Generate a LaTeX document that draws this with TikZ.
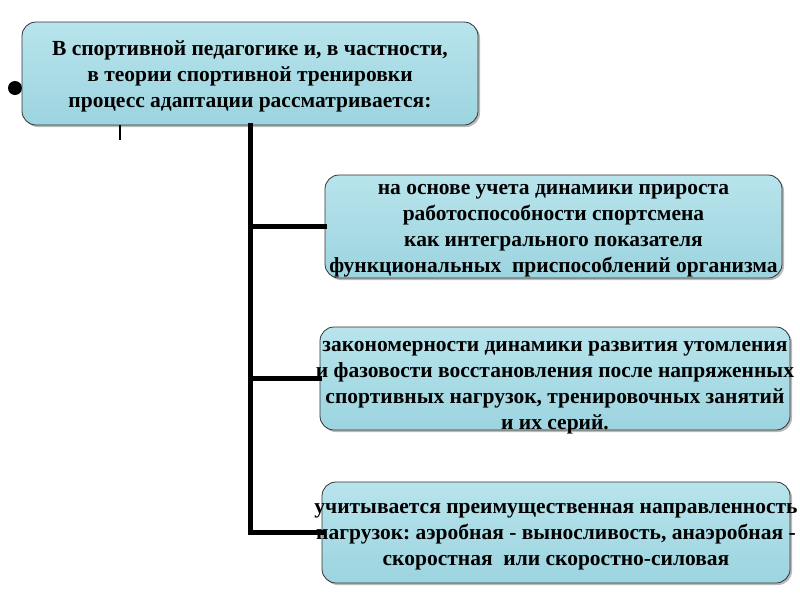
\documentclass[tikz,border=0pt]{standalone}
\usepackage{fontspec}
\setmainfont{LiberationSerif}[Extension=.ttf, UprightFont=*-Regular, BoldFont=*-Bold]
\usetikzlibrary{shadows}
\definecolor{boxtop}{HTML}{B8E4EC}
\definecolor{boxbot}{HTML}{9CD4DF}
\tikzset{
  panel/.style={draw=black!80, line width=0.8pt, rounded corners=14pt,
    top color=boxtop, bottom color=boxbot, inner sep=0pt,
    drop shadow={shadow xshift=2pt, shadow yshift=-2pt, fill=black!45, opacity=0.6}},
  paneltext/.style={align=center, inner sep=0pt,
    font=\rmfamily\bfseries\fontsize{21.5}{26}\selectfont},
  link/.style={line width=5pt, line cap=rect},
  thinlink/.style={line width=2pt}
}
\begin{document}
\begin{tikzpicture}[x=1pt,y=-1pt]
\useasboundingbox (0,0) rectangle (800,600);
\fill[white] (0,0) rectangle (800,600);
% bullet
\node[circle, fill=black, minimum size=14pt, inner sep=0pt] (bullet) at (15,88) {};
% boxes
\node[panel, minimum width=456pt, minimum height=103pt] (top) at (250,73.5) {};
\node[panel, minimum width=457pt, minimum height=103pt] (b1) at (553.5,226.5) {};
\node[panel, minimum width=470pt, minimum height=103pt] (b2) at (555,378.5) {};
\node[panel, minimum width=468pt, minimum height=101pt] (b3) at (556,532.5) {};
% texts
\node[paneltext] (ttop) at ([yshift=-3pt]top.center)
  {В спортивной педагогике и, в частности,\\в теории спортивной тренировки\\процесс адаптации рассматривается:};
\node[paneltext] (tb1) at ([yshift=-4pt]b1.center)
  {на основе учета динамики прироста\\работоспособности спортсмена\\как интегрального показателя\\функциональных\ \ приспособлений организма};
\node[paneltext] (tb2) at ([yshift=-9pt]b2.center)
  {закономерности динамики развития\ утомления\\и фазовости восстановления после напряженных\\спортивных\ нагрузок, тренировочных\ занятий\\и их серий.};
\node[paneltext] (tb3) at ([yshift=-4pt]b3.center)
  {учитывается\ преимущественная\ направленность\\нагрузок:\ аэробная - выносливость, анаэробная -\\скоростная\ \ или скоростно-силовая};
% connectors
\coordinate (trunk) at (250,0);
\coordinate (tick) at (120,0);
\draw[link] (top.south -| trunk) -- (trunk |- b3.west) -- (b3.west);
\draw[link] (trunk |- b1.west) -- (b1.west);
\draw[link] (trunk |- b2.west) -- (b2.west);
\coordinate (tickend) at (120,140);
\draw[thinlink] (top.south -| tick) -- (tickend);
\end{tikzpicture}
\end{document}
